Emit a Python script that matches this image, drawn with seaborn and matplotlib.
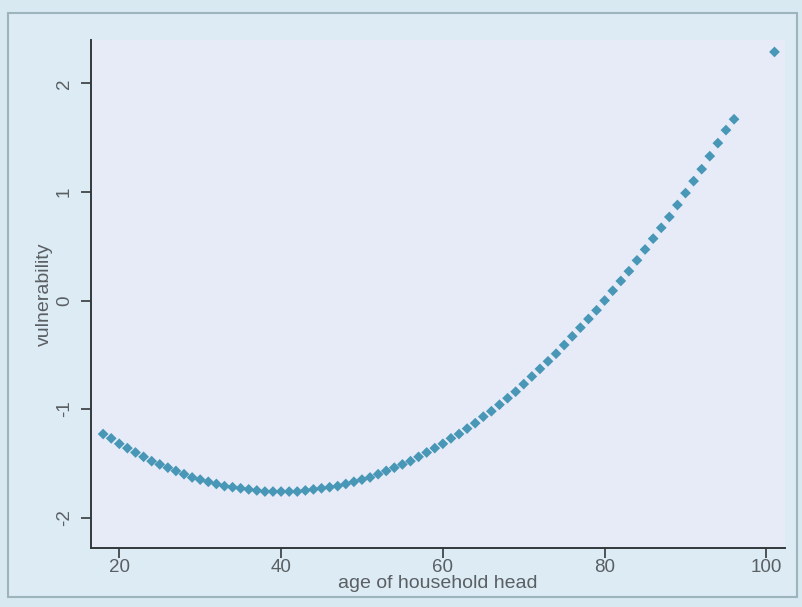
import matplotlib
matplotlib.use('Agg')
import matplotlib.pyplot as plt
from matplotlib.patches import Rectangle
import seaborn as sns
import pandas as pd

# ages of household head (one point per age, plus one outlier at 101)
age = list(range(18, 97)) + [101]

# fitted vulnerability
vulnerability = [
    -1.23, -1.27, -1.32, -1.36, -1.40, -1.44, -1.48, -1.51, -1.54, -1.57,  # 18-27
    -1.60, -1.63, -1.65, -1.67, -1.69, -1.71, -1.72, -1.73, -1.74, -1.75,  # 28-37
    -1.76, -1.76, -1.76, -1.76, -1.76, -1.75, -1.74, -1.73, -1.72, -1.71,  # 38-47
    -1.69, -1.67, -1.65, -1.63, -1.60, -1.57, -1.54, -1.51, -1.48, -1.44,  # 48-57
    -1.40, -1.36, -1.32, -1.27, -1.23, -1.18, -1.13, -1.07, -1.02, -0.96,  # 58-67
    -0.90, -0.84, -0.77, -0.70, -0.63, -0.56, -0.49, -0.41, -0.33, -0.25,  # 68-77
    -0.17, -0.09, 0.00, 0.09, 0.18, 0.27, 0.37, 0.47, 0.57, 0.67,  # 78-87
    0.77, 0.88, 0.99, 1.10, 1.21, 1.33, 1.45, 1.57, 1.67,  # 88-96
    2.29,  # 101
]

x_ticks = [20, 40, 60, 80, 100]
y_ticks = [-2, -1, 0, 1, 2]

df = pd.DataFrame({'age': age, 'vulnerability': vulnerability})

sns.set_style('ticks')
plt.rcParams['font.family'] = ['Liberation Sans', 'DejaVu Sans']

outer_bg = '#d8e9f2'
frame_bg = '#dcebf4'
plot_bg = '#e6ebf7'
text_col = '#5a5f63'
axis_col = '#34393c'

fig = plt.figure(figsize=(8.03, 6.07), dpi=100, facecolor=outer_bg)
W, H = 803, 607
# outer frame around the graph region (drawn behind the axes)
fig.patches.append(Rectangle((8 / W, 1 - 597 / H), 789 / W, 584 / H,
                             transform=fig.transFigure, facecolor=frame_bg,
                             edgecolor='#9db4bd', linewidth=1.5, zorder=-10))

ax = fig.add_axes([91 / W, 1 - 548 / H, (785 - 91) / W, (548 - 40) / H])
ax.set_facecolor(plot_bg)

sns.scatterplot(data=df, x='age', y='vulnerability', ax=ax, marker='D',
                s=30, color='#4897b7', edgecolor='none', linewidth=0)

ax.set_xlim(16.5, 102.3)
ax.set_ylim(-2.28, 2.40)
ax.set_xticks(x_ticks)
ax.set_yticks(y_ticks)
ax.set_xticklabels([str(t) for t in x_ticks])
ax.set_yticklabels([str(t) for t in y_ticks], rotation=90, va='center')

for side in ['top', 'right']:
    ax.spines[side].set_visible(False)
for side in ['left', 'bottom']:
    ax.spines[side].set_color(axis_col)
    ax.spines[side].set_linewidth(1.4)

ax.tick_params(axis='both', colors=axis_col, labelcolor=text_col,
               labelsize=13.5, length=7, width=1.2, direction='out')
ax.tick_params(axis='x', pad=1)
ax.tick_params(axis='y', pad=6)

ax.set_xlabel('age of household head', fontsize=14, color=text_col, labelpad=-1)
ax.set_ylabel('vulnerability', fontsize=14, color=text_col, labelpad=2)

plt.savefig('out.png', dpi=100, facecolor=outer_bg)
